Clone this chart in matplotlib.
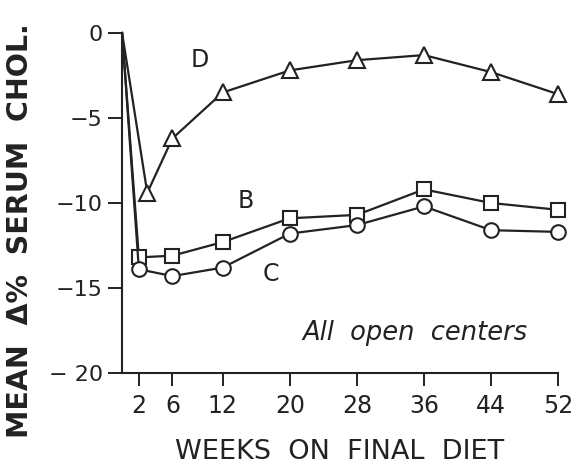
import matplotlib
matplotlib.use("Agg")
import matplotlib.pyplot as plt

# weeks on final diet (first point is the baseline at week 0)
weeks_d = [0, 3, 6, 12, 20, 28, 36, 44, 52]
weeks_bc = [0, 2, 6, 12, 20, 28, 36, 44, 52]
diet_d = [0, -9.4, -6.2, -3.5, -2.2, -1.6, -1.3, -2.3, -3.6]
diet_b = [0, -13.2, -13.1, -12.3, -10.9, -10.7, -9.2, -10.0, -10.4]
diet_c = [0, -13.9, -14.3, -13.8, -11.8, -11.3, -10.2, -11.6, -11.7]

xticks = [2, 6, 12, 20, 28, 36, 44, 52]
yticks = [0, -5, -10, -15, -20]
ytick_labels = ["0", "\u22125", "\u221210", "\u221215", "\u2212 20"]

ink = "#222222"
plt.rcParams["font.family"] = "DejaVu Sans"

fig = plt.figure(figsize=(5.76, 4.66), dpi=100)
ax = fig.add_axes([0.212, 0.1996, 0.757, 0.7296])

style = dict(color=ink, lw=1.6, mfc="white", mec=ink, mew=1.5, clip_on=False)
ax.plot(weeks_d, diet_d, marker="^", ms=12, markevery=range(1, len(weeks_d)), **style)
ax.plot(weeks_bc, diet_b, marker="s", ms=9.5, markevery=range(1, len(weeks_bc)), **style)
ax.plot(weeks_bc, diet_c, marker="o", ms=10.5, markevery=range(1, len(weeks_bc)), **style)

ax.set_xlim(0, 52)
ax.set_ylim(-20, 0)
ax.spines["top"].set_visible(False)
ax.spines["right"].set_visible(False)
for s in ("left", "bottom"):
    ax.spines[s].set_color(ink)
    ax.spines[s].set_linewidth(1.5)
ax.spines["bottom"].set_bounds(0, 52)

ax.set_xticks(xticks)
ax.set_xticklabels([str(t) for t in xticks])
ax.set_yticks(yticks)
ax.set_yticklabels(ytick_labels)
ax.tick_params(axis="x", direction="out", length=9, width=1.4, color=ink,
               labelsize=17, labelcolor=ink, pad=6)
ax.tick_params(axis="y", direction="out", length=10, width=1.4, color=ink,
               labelsize=16, labelcolor=ink, pad=4)

ax.text(9.3, -1.6, "D", fontsize=17, color=ink, ha="center", va="center")
ax.text(14.7, -9.9, "B", fontsize=17, color=ink, ha="center", va="center")
ax.text(17.7, -14.2, "C", fontsize=17, color=ink, ha="center", va="center")
ax.text(21.5, -17.65, "All  open  centers", fontsize=18.5, style="italic",
        color=ink, ha="left", va="center")

fig.text(0.59, 0.03, "WEEKS  ON  FINAL  DIET", fontsize=19.5, color=ink,
         ha="center", va="center")
fig.text(0.035, 0.506, "MEAN  \u0394%  SERUM  CHOL.", fontsize=20.5, fontweight="bold",
         color=ink, ha="center", va="center", rotation=90)

fig.savefig("out.png", dpi=100, facecolor="white")
